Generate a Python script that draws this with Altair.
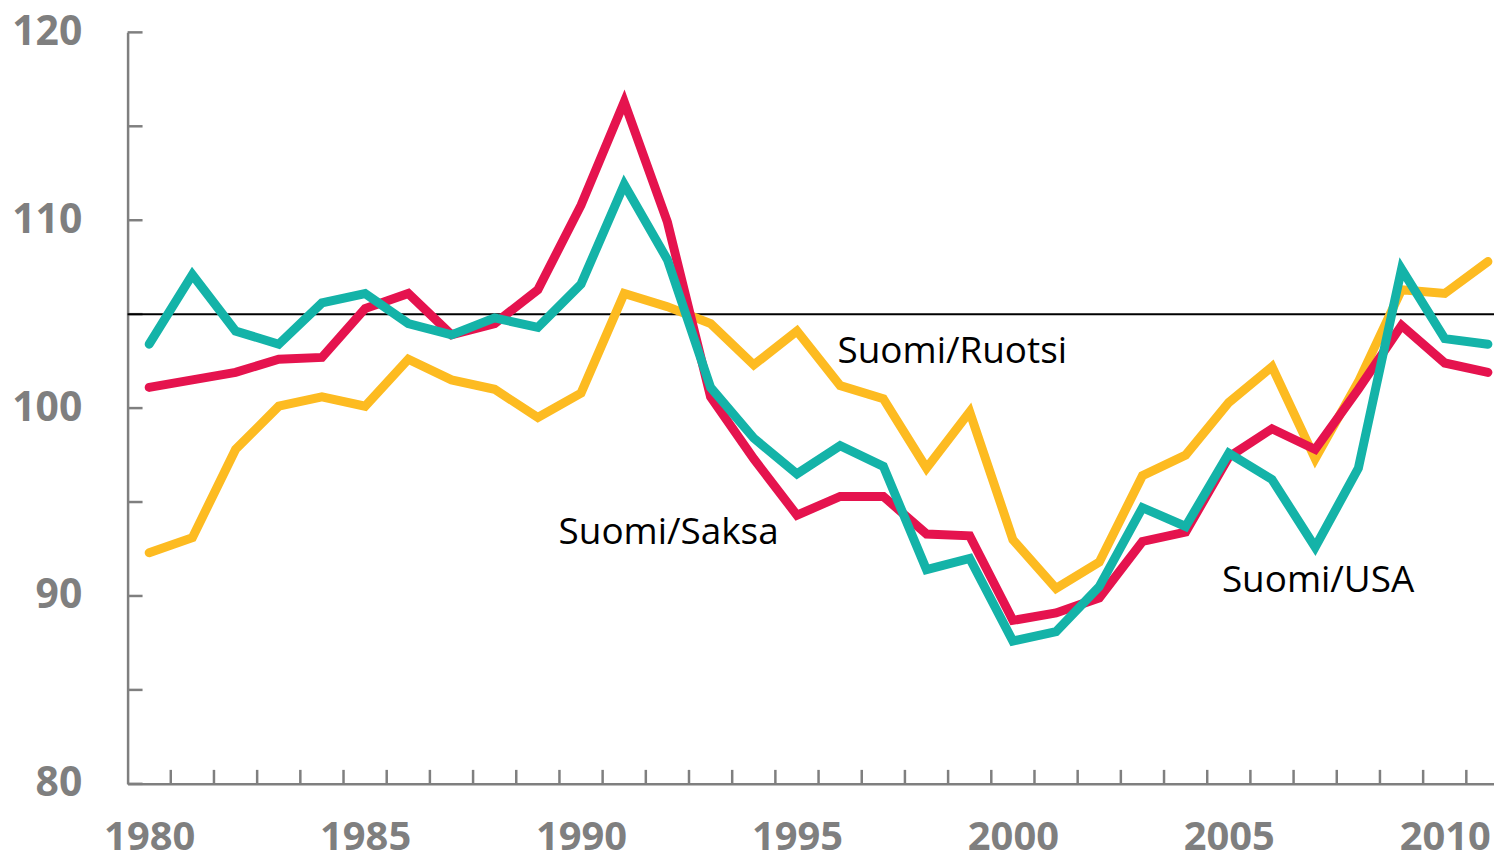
import altair as alt
import pandas as pd

years = list(range(1980, 2012))
suomi_ruotsi = [92.3, 93.1, 97.8, 100.1, 100.6, 100.1, 102.6, 101.5, 101.0, 99.5,
                100.8, 106.1, 105.4, 104.5, 102.3, 104.1, 101.2, 100.5, 96.8, 99.8,
                93.0, 90.4, 91.8, 96.4, 97.5, 100.3, 102.2, 97.3, 101.4, 106.3,
                106.1, 107.8]
suomi_saksa = [101.1, 101.5, 101.9, 102.6, 102.7, 105.3, 106.1, 103.9, 104.5, 106.3,
               110.8, 116.3, 109.9, 100.6, 97.3, 94.3, 95.3, 95.3, 93.3, 93.2,
               88.7, 89.1, 89.9, 92.9, 93.4, 97.4, 98.9, 97.8, 101.0, 104.4,
               102.4, 101.9]
suomi_usa = [103.4, 107.1, 104.1, 103.4, 105.6, 106.1, 104.5, 103.9, 104.8, 104.3,
             106.6, 111.9, 107.9, 101.1, 98.4, 96.5, 98.0, 96.9, 91.4, 92.0,
             87.6, 88.1, 90.5, 94.7, 93.7, 97.6, 96.2, 92.6, 96.8, 107.4,
             103.7, 103.4]
series_names = ["Suomi/Ruotsi", "Suomi/Saksa", "Suomi/USA"]
series_colors = ["#FDBB21", "#E5134E", "#14B3A8"]
reference_level = 105
y_labels = [80, 90, 100, 110, 120]
y_minor = [80, 85, 90, 95, 100, 105, 110, 115, 120]
x_labels = [1980, 1985, 1990, 1995, 2000, 2005, 2010]

label_text = ["Suomi/Ruotsi", "Suomi/Saksa", "Suomi/USA"]
label_x = [1995.94, 1989.48, 2004.84]
label_y = [102.96, 93.36, 90.82]

rows = []
for name, vals in zip(series_names, [suomi_ruotsi, suomi_saksa, suomi_usa]):
    for yr, v in zip(years, vals):
        rows.append({"year": yr, "value": v, "series": name})
df = pd.DataFrame(rows)

W = 1371
H = 754
x_dom = [1979.5, 1979.5 + W / 43.33]
xs = alt.Scale(domain=x_dom, nice=False, zero=False)
ys = alt.Scale(domain=[80, 120], nice=False, zero=False)

axis_gray = "#7f7f7f"

base_x = alt.X("year:Q", scale=xs, axis=alt.Axis(
    values=x_labels, format="d", ticks=False, grid=False, domain=True,
    domainColor=axis_gray, domainWidth=2.5, labelFont="Open Sans",
    labelFontSize=40, labelFontWeight="bold", labelColor=axis_gray,
    labelPadding=66, labelBaseline="alphabetic", title=None, labelFlush=False))
base_y = alt.Y("value:Q", scale=ys, axis=alt.Axis(
    values=y_labels, ticks=False, grid=False, domain=True,
    domainColor=axis_gray, domainWidth=2.5, labelFont="Open Sans",
    labelFontSize=41, labelFontWeight="bold", labelColor=axis_gray,
    labelPadding=46, labelBaseline="middle", title=None, labelFlush=False))

# inward tick marks
xt = pd.DataFrame({"b": [y + 0.5 for y in years[:-1]]})
x_ticks = alt.Chart(xt).mark_rule(color=axis_gray, strokeWidth=2.5).encode(
    x=alt.X("b:Q", scale=xs), y=alt.value(H), y2=alt.value(H - 14))
yt = pd.DataFrame({"v": y_minor})
y_ticks = alt.Chart(yt).mark_rule(color=axis_gray, strokeWidth=2.5).encode(
    y=alt.Y("v:Q", scale=ys), x=alt.value(0), x2=alt.value(15))

ref = alt.Chart(pd.DataFrame({"v": [reference_level]})).mark_rule(
    color="#000000", strokeWidth=2).encode(
    y=alt.Y("v:Q", scale=ys), x=alt.value(0), x2=alt.value(W))

layers = [x_ticks, y_ticks, ref]
axes_layer = alt.Chart(df).mark_line(opacity=0).encode(x=base_x, y=base_y)
layers.insert(0, axes_layer)
for name, col in zip(series_names, series_colors):
    layers.append(
        alt.Chart(df).transform_filter(alt.datum.series == name).mark_line(
            color=col, strokeWidth=9, strokeCap="round", clip=False).encode(
            x=alt.X("year:Q", scale=xs), y=alt.Y("value:Q", scale=ys)))

lab = pd.DataFrame({"t": label_text, "x": label_x, "y": label_y})
labels = alt.Chart(lab).mark_text(
    font="Open Sans", fontSize=37, color="#000000", align="left",
    baseline="middle").encode(
    x=alt.X("x:Q", scale=xs), y=alt.Y("y:Q", scale=ys), text="t:N")
layers.append(labels)

chart = alt.layer(*layers).properties(
    width=W, height=H,
    autosize=alt.AutoSizeParams(type="none"),
    padding={"left": 120, "top": 23, "right": 0, "bottom": 80},
    background="#ffffff",
).configure_view(stroke=None)

chart.save("out.html", embed_options={"renderer": "svg", "actions": False})
